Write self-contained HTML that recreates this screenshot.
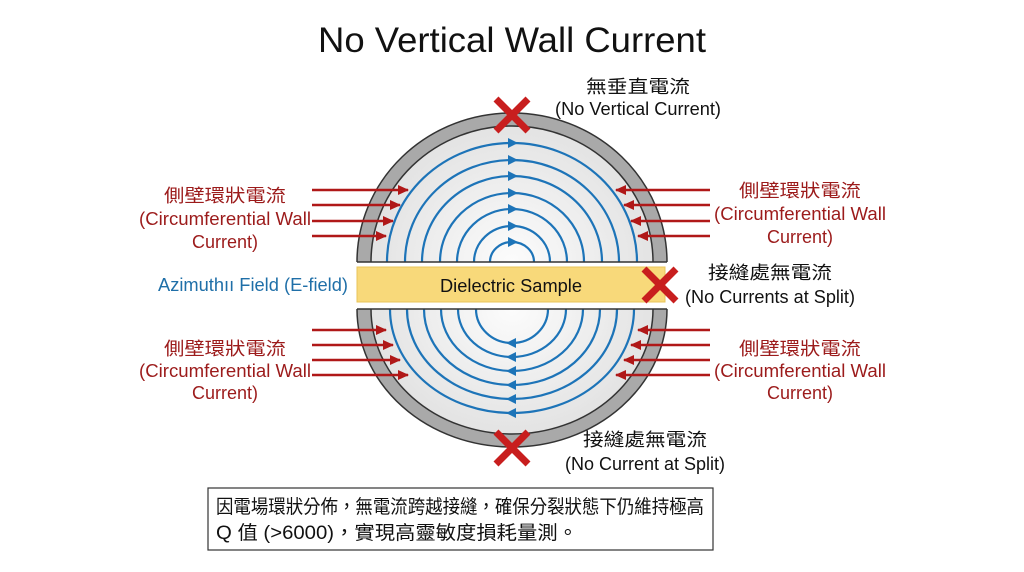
<!DOCTYPE html>
<html><head><meta charset="utf-8"><style>
html,body{margin:0;padding:0;background:#fff;}
svg{display:block;font-family:"Liberation Sans","Noto Sans CJK TC",sans-serif;}
</style></head><body>
<svg width="1024" height="572" viewBox="0 0 1024 572" xmlns="http://www.w3.org/2000/svg">
<defs>
<marker id="ra" markerWidth="12" markerHeight="10" refX="10" refY="5" orient="auto" markerUnits="userSpaceOnUse"><path d="M0,0 L11,5 L0,10 Z" fill="#b01818"/></marker>
<radialGradient id="g" cx="50%" cy="50%" r="60%"><stop offset="0" stop-color="#fcfcfc"/><stop offset="1" stop-color="#dedede"/></radialGradient>
<clipPath id="ct"><rect x="340" y="90" width="340" height="172"/></clipPath>
<clipPath id="cb"><rect x="340" y="309" width="340" height="160"/></clipPath>
</defs>
<rect width="1024" height="572" fill="#fff"/>
<text x="512" y="52" font-size="35" text-anchor="middle" fill="#111" textLength="388" lengthAdjust="spacingAndGlyphs">No Vertical Wall Current</text>

<g clip-path="url(#ct)">
<ellipse cx="512" cy="262" rx="155" ry="149" fill="#a9a9a9" stroke="#333" stroke-width="1.5"/>
<ellipse cx="512" cy="262" rx="141" ry="136" fill="url(#g)" stroke="#333" stroke-width="1.5"/>
<g fill="none" stroke="#1d74b8" stroke-width="2.2">
<ellipse cx="512" cy="262" rx="125" ry="119"/>
<ellipse cx="512" cy="262" rx="107" ry="102"/>
<ellipse cx="512" cy="262" rx="90" ry="86"/>
<ellipse cx="512" cy="262" rx="72" ry="69"/>
<ellipse cx="512" cy="262" rx="55" ry="53"/>
<ellipse cx="512" cy="262" rx="38" ry="36"/>
<ellipse cx="512" cy="262" rx="22" ry="20"/>
</g>
<g fill="#1d74b8">
<path d="M508,138 L518,143 L508,148Z"/><path d="M508,155 L518,160 L508,165Z"/><path d="M508,171 L518,176 L508,181Z"/><path d="M508,188 L518,193 L508,198Z"/><path d="M508,204 L518,209 L508,214Z"/><path d="M508,221 L518,226 L508,231Z"/><path d="M508,237 L518,242 L508,247Z"/>
</g>
</g>
<line x1="357" y1="262" x2="667" y2="262" stroke="#333" stroke-width="1.5"/>

<g clip-path="url(#cb)">
<ellipse cx="512" cy="309" rx="155" ry="138" fill="#a9a9a9" stroke="#333" stroke-width="1.5"/>
<ellipse cx="512" cy="309" rx="141" ry="125" fill="url(#g)" stroke="#333" stroke-width="1.5"/>
<g fill="none" stroke="#1d74b8" stroke-width="2.2">
<ellipse cx="512" cy="309" rx="122" ry="104"/>
<ellipse cx="512" cy="309" rx="105" ry="90"/>
<ellipse cx="512" cy="309" rx="88" ry="76"/>
<ellipse cx="512" cy="309" rx="71" ry="62"/>
<ellipse cx="512" cy="309" rx="54" ry="48"/>
<ellipse cx="512" cy="309" rx="36" ry="34"/>
</g>
<g fill="#1d74b8">
<path d="M516,338 L506,343 L516,348Z"/><path d="M516,352 L506,357 L516,362Z"/><path d="M516,366 L506,371 L516,376Z"/><path d="M516,380 L506,385 L516,390Z"/><path d="M516,394 L506,399 L516,404Z"/><path d="M516,408 L506,413 L516,418Z"/>
</g>
</g>
<line x1="357" y1="309" x2="667" y2="309" stroke="#333" stroke-width="1.5"/>

<rect x="357" y="267" width="308" height="35" fill="#f8d97a" stroke="#e8c45a" stroke-width="1"/>
<text x="511" y="292" font-size="18" text-anchor="middle" fill="#111" textLength="142" lengthAdjust="spacingAndGlyphs">Dielectric Sample</text>
<text x="253" y="291" font-size="18" text-anchor="middle" fill="#1f6fa8" textLength="190" lengthAdjust="spacingAndGlyphs">Azimuthıı Field (E-field)</text>

<g stroke="#c81e1e" stroke-width="7">
<path d="M496,99 L528,131 M528,99 L496,131"/>
<path d="M644,269 L676,301 M676,269 L644,301"/>
<path d="M496,432 L528,464 M528,432 L496,464"/>
</g>

<g stroke="#b01818" stroke-width="2.4" marker-end="url(#ra)">
<line x1="312" y1="190" x2="408" y2="190"/><line x1="312" y1="205" x2="400" y2="205"/><line x1="312" y1="221" x2="393" y2="221"/><line x1="312" y1="236" x2="386" y2="236"/>
<line x1="312" y1="330" x2="386" y2="330"/><line x1="312" y1="345" x2="393" y2="345"/><line x1="312" y1="360" x2="400" y2="360"/><line x1="312" y1="375" x2="408" y2="375"/>
<line x1="710" y1="190" x2="616" y2="190"/><line x1="710" y1="205" x2="624" y2="205"/><line x1="710" y1="221" x2="631" y2="221"/><line x1="710" y1="236" x2="638" y2="236"/>
<line x1="710" y1="330" x2="638" y2="330"/><line x1="710" y1="345" x2="631" y2="345"/><line x1="710" y1="360" x2="624" y2="360"/><line x1="710" y1="375" x2="616" y2="375"/>
</g>

<g fill="#9c1b1b" font-size="18" text-anchor="middle">
<text x="225" y="202" textLength="122" lengthAdjust="spacingAndGlyphs">側壁環狀電流</text><text x="225" y="225" textLength="172" lengthAdjust="spacingAndGlyphs">(Circumferential Wall</text><text x="225" y="248" textLength="66" lengthAdjust="spacingAndGlyphs">Current)</text>
<text x="800" y="197" textLength="122" lengthAdjust="spacingAndGlyphs">側壁環狀電流</text><text x="800" y="220" textLength="172" lengthAdjust="spacingAndGlyphs">(Circumferential Wall</text><text x="800" y="243" textLength="66" lengthAdjust="spacingAndGlyphs">Current)</text>
<text x="225" y="355" textLength="122" lengthAdjust="spacingAndGlyphs">側壁環狀電流</text><text x="225" y="377" textLength="172" lengthAdjust="spacingAndGlyphs">(Circumferential Wall</text><text x="225" y="399" textLength="66" lengthAdjust="spacingAndGlyphs">Current)</text>
<text x="800" y="355" textLength="122" lengthAdjust="spacingAndGlyphs">側壁環狀電流</text><text x="800" y="377" textLength="172" lengthAdjust="spacingAndGlyphs">(Circumferential Wall</text><text x="800" y="399" textLength="66" lengthAdjust="spacingAndGlyphs">Current)</text>
</g>
<g fill="#111" font-size="18" text-anchor="middle">
<text x="638" y="93" textLength="104" lengthAdjust="spacingAndGlyphs">無垂直電流</text><text x="638" y="115" textLength="166" lengthAdjust="spacingAndGlyphs">(No Vertical Current)</text>
<text x="770" y="279" textLength="124" lengthAdjust="spacingAndGlyphs">接縫處無電流</text><text x="770" y="303" textLength="170" lengthAdjust="spacingAndGlyphs">(No Currents at Split)</text>
<text x="645" y="446" textLength="124" lengthAdjust="spacingAndGlyphs">接縫處無電流</text><text x="645" y="470" textLength="160" lengthAdjust="spacingAndGlyphs">(No Current at Split)</text>
</g>

<rect x="208" y="488" width="505" height="62" fill="#fff" stroke="#333" stroke-width="1.2"/>
<g fill="#111" font-size="19">
<text x="216" y="513" textLength="488" lengthAdjust="spacingAndGlyphs">因電場環狀分佈，無電流跨越接縫，確保分裂狀態下仍維持極高</text>
<text x="216" y="539" textLength="362" lengthAdjust="spacingAndGlyphs">Q 值 (&gt;6000)，實現高靈敏度損耗量測。</text>
</g>
</svg>
</body></html>
